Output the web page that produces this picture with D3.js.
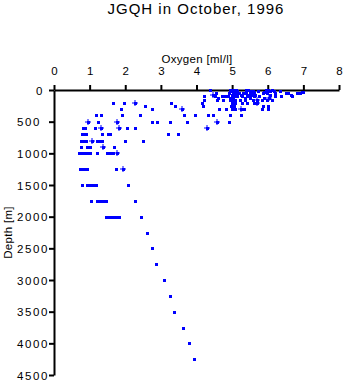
<!DOCTYPE html>
<html><head><meta charset="utf-8">
<script src="https://cdn.jsdelivr.net/npm/d3@7/dist/d3.min.js"></script>
<style>
html,body{margin:0;padding:0;background:#fff;}
svg{display:block;font-family:"Liberation Sans",Arial,Helvetica,sans-serif;}
</style></head>
<body>
<script>
// ---- data ----
const title = "JGQH in October, 1996";
const xLabel = "Oxygen [ml/l]";
const yLabel = "Depth [m]";
const xTicks = [0,1,2,3,4,5,6,7,8];
const yTicks = [0,500,1000,1500,2000,2500,3000,3500,4000,4500];

// square markers: depth levels and oxygen values at each level
const squareDepth = [0,10,30,50,75,100,125,150,200,250,300,400,500,600,700,800,900,1000,1250,1500,1750,2000,2250,2500,2750,3000,3250,3500,3750,4000,4250];
const squareOxygen = [
  [4.38,4.95,5.0,5.05,5.1,5.38,5.45,5.95,6.0,6.12],
  [5.0,5.08,5.15,5.52,5.58,5.73,5.95,6.05,6.18,6.34],
  [5.02,5.12,5.4,5.55,5.62,5.9,6.97,7.0],
  [4.55,4.92,5.05,5.12,5.2,5.3,5.38,5.5,5.62,5.88,5.98,6.2,6.52,6.58,6.82,6.9],
  [5.0,5.1,5.25,5.47,5.55,5.65,6.06,6.65],
  [4.22,4.52,4.71,4.8,4.89,5.08,5.13,5.27,5.41,5.6,5.75,6.2,6.36,6.67],
  [4.6,4.95,5.02,5.35,5.5,5.9],
  [4.22,4.57,4.75,4.94,5.0,5.08,5.22,5.36,5.58,5.83,5.97,6.11],
  [1.67,1.97,3.29,4.15,4.99,5.08,5.27,5.41,5.6],
  [2.56,3.4,4.17,4.97,5.05,5.86,6.02],
  [1.88,2.74,4.63,4.83,5.01,5.08,5.34,5.83,6.02],
  [1.18,1.31,1.9,2.42,3.66,3.97,4.31,4.47,4.94,5.25],
  [1.24,2.76,2.9,3.26,3.74,4.92],
  [0.82,0.88,1.15,2.06,2.27],
  [0.78,0.85,0.89,1.36,1.52,1.57,3.21,3.49],
  [0.76,0.8,0.85,0.89,1.2,1.25,1.3,1.36,1.99,2.51],
  [0.76,0.92,0.97,1.02,1.69],
  [0.7,0.76,0.82,0.88,0.93,1.02,1.22,1.5,1.55,1.62,1.67],
  [0.74,0.8,0.86,0.92,1.75],
  [0.78,0.93,0.99,1.05,1.11,1.17,2.08],
  [1.04,1.22,1.28,1.34,1.4,1.46,2.28],
  [1.46,1.52,1.58,1.64,1.7,1.76,1.83,2.45],
  [2.6],[2.76],[2.87],[3.1],[3.27],[3.37],[3.63],[3.8],[3.92]
];

// plus markers
const plusDepth  = [75,125,150,200,200,300,300,500,500,500,600,600,600,800,900,1000,1250];
const plusOxygen = [4.47,6.04,5.69,2.27,5.69,3.58,5.24,0.95,1.76,4.58,1.31,1.82,4.29,1.06,1.38,1.78,1.95];

// ---- layout ----
const W = 345, H = 384;
const mLeft = 54, mRight = 339, mTop = 90, mBottom = 375;
const blue = "#0000ff";

const svg = d3.select("body").append("svg").attr("width", W).attr("height", H);

const x = d3.scaleLinear().domain([0, 8]).range([mLeft, mRight]);
const y = d3.scaleLinear().domain([0, 4500]).range([mTop, mBottom]);

// titles
svg.append("text").attr("x", 196).attr("y", 14).attr("text-anchor", "middle")
  .attr("font-size", 15).attr("letter-spacing", 1).text(title);
svg.append("text").attr("x", 197).attr("y", 63).attr("text-anchor", "middle")
  .attr("font-size", 11.5).attr("letter-spacing", 0.3).text(xLabel);
svg.append("text").attr("transform", `translate(12,${(mTop+mBottom)/2}) rotate(-90)`)
  .attr("text-anchor", "middle").attr("font-size", 11.5).attr("letter-spacing", 0.3).text(yLabel);

// x axis (top)
const gx = svg.append("g").attr("transform", `translate(0,${mTop})`)
  .call(d3.axisTop(x).tickValues(xTicks).tickSize(5).tickSizeOuter(0).tickPadding(10).tickFormat(d3.format("d")));
gx.selectAll("text").attr("font-size", 11.5).attr("fill", "#000");
// y axis (left)
const gy = svg.append("g").attr("transform", `translate(${mLeft},0)`)
  .call(d3.axisLeft(y).tickValues(yTicks).tickSize(5).tickSizeOuter(0).tickPadding(4).tickFormat(d3.format("d")));
gy.selectAll("text").attr("font-size", 11.5).attr("fill", "#000")
  .attr("letter-spacing", 1.6)
  .attr("text-anchor", d => d === 0 ? "end" : "start")
  .attr("x", d => d === 0 ? -10 : -37)
  .attr("dy", "0.36em");
svg.selectAll("g").attr("font-family", null);
svg.selectAll(".domain, .tick line").attr("stroke", "#000").attr("stroke-width", 2);

// points
const sq = [];
squareDepth.forEach((d, i) => squareOxygen[i].forEach(o => sq.push({d, o})));
svg.append("g").selectAll("rect").data(sq).join("rect")
  .attr("x", p => Math.round(x(p.o)) - 1.5).attr("y", p => Math.round(y(p.d)) - 1.5)
  .attr("width", 3.5).attr("height", 3).attr("fill", blue).attr("shape-rendering", "crispEdges");

const pl = plusDepth.map((d, i) => ({d, o: plusOxygen[i]}));
const gp = svg.append("g").selectAll("g").data(pl).join("g")
  .attr("transform", p => `translate(${Math.round(x(p.o))},${Math.round(y(p.d))})`);
gp.append("rect").attr("x", -1.5).attr("y", -1.5).attr("width", 3).attr("height", 3).attr("fill", blue).attr("shape-rendering","crispEdges");
gp.append("path").attr("d", "M-3,0H3M0,-3V3").attr("stroke", blue).attr("stroke-width", 1).attr("fill","none");
</script>
</body></html>
